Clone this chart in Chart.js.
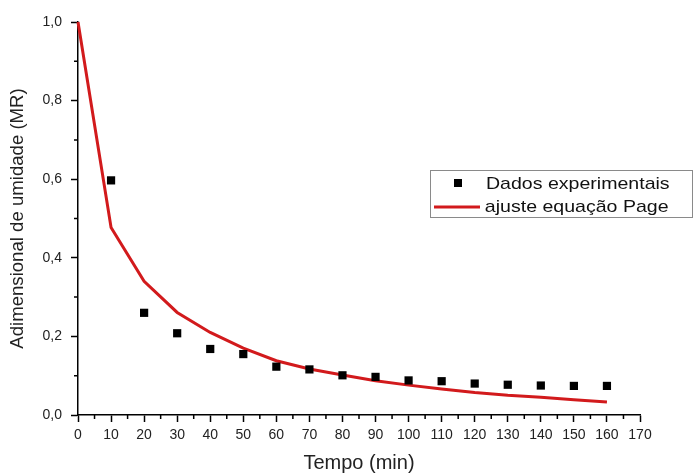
<!DOCTYPE html>
<html lang="pt">
<head>
    <meta charset="UTF-8">
    <title>Cinética de secagem - modelo de Page</title>
    <script src="https://cdn.jsdelivr.net/npm/chart.js"></script>
    <style>
        body { margin: 0; background: #fff; }
        #grafico { display: block; }
    </style>
</head>
<body>
    <canvas id="grafico" width="694" height="475"></canvas>
    <script>
        // tempo de secagem (min)
        const tempos = [10, 20, 30, 40, 50, 60, 70, 80, 90, 100, 110, 120, 130, 140, 150, 160];
        const mrExperimental = [0.597, 0.260, 0.208, 0.168, 0.155, 0.123, 0.116, 0.101, 0.097, 0.088, 0.086, 0.080, 0.077, 0.075, 0.074, 0.074];

        // curva ajustada pela equação de Page
        const temposAjuste = [0, 10, 20, 30, 40, 50, 60, 70, 80, 90, 100, 110, 120, 130, 140, 150, 160];
        const mrPage = [1.0, 0.477, 0.340, 0.261, 0.210, 0.170, 0.138, 0.117, 0.102, 0.087, 0.076, 0.066, 0.057, 0.050, 0.045, 0.039, 0.033];

        const fonte = "'Liberation Sans', Arial, sans-serif";
        const vermelho = '#d21a1c';

        function pontos(xs, ys) {
            return xs.map((x, i) => ({ x: x, y: ys[i] }));
        }

        // ticks menores (sem rótulo) desenhados mais curtos
        const ticksMenores = {
            id: 'ticksMenores',
            afterDraw(chart) {
                const ctx = chart.ctx;
                const sx = chart.scales.x;
                const sy = chart.scales.y;
                ctx.save();
                ctx.strokeStyle = '#000';
                ctx.lineWidth = 1.5;
                ctx.beginPath();
                sx.ticks.forEach(t => {
                    if (t.value % 10 !== 0) {
                        const px = sx.getPixelForValue(t.value);
                        ctx.moveTo(px, sx.top);
                        ctx.lineTo(px, sx.top + 4);
                    }
                });
                sy.ticks.forEach(t => {
                    if (Math.round(t.value * 10) % 2 !== 0) {
                        const py = sy.getPixelForValue(t.value);
                        ctx.moveTo(sy.right, py);
                        ctx.lineTo(sy.right - 4, py);
                    }
                });
                ctx.stroke();
                ctx.restore();
            }
        };

        // legenda em caixa dentro da área do gráfico
        const legendaCaixa = {
            id: 'legendaCaixa',
            afterDraw(chart) {
                const ctx = chart.ctx;
                const ds = chart.data.datasets;
                ctx.save();
                ctx.strokeStyle = '#8a8a8a';
                ctx.lineWidth = 1;
                ctx.strokeRect(430.5, 170.5, 262, 47);

                ctx.fillStyle = '#000';
                ctx.fillRect(454, 179, 8, 8);

                ctx.strokeStyle = vermelho;
                ctx.lineWidth = 3;
                ctx.beginPath();
                ctx.moveTo(434, 207);
                ctx.lineTo(480, 207);
                ctx.stroke();

                // texto levemente alargado na horizontal
                ctx.fillStyle = '#111';
                ctx.font = '17px ' + fonte;
                ctx.textBaseline = 'middle';
                ctx.translate(486, 0);
                ctx.scale(1.15, 1);
                ctx.fillText(ds[0].label, 0, 184);
                ctx.fillText(ds[1].label, -1, 207);
                ctx.restore();
            }
        };

        new Chart(document.getElementById('grafico'), {
            type: 'scatter',
            data: {
                datasets: [
                    {
                        label: 'Dados experimentais',
                        data: pontos(tempos, mrExperimental),
                        pointStyle: 'rect',
                        pointRadius: 5.8,
                        backgroundColor: '#000',
                        borderColor: '#000',
                        borderWidth: 0,
                        clip: false
                    },
                    {
                        label: 'ajuste equação Page',
                        data: pontos(temposAjuste, mrPage),
                        showLine: true,
                        tension: 0,
                        pointRadius: 0,
                        borderColor: vermelho,
                        borderWidth: 3,
                        clip: false
                    }
                ]
            },
            options: {
                responsive: false,
                animation: false,
                layout: { padding: { left: 0, right: 54, top: 22, bottom: 0 } },
                plugins: {
                    legend: { display: false },
                    tooltip: { enabled: false }
                },
                scales: {
                    x: {
                        type: 'linear',
                        min: 0,
                        max: 170,
                        afterFit(scale) { scale.height = 60; },
                        border: { color: '#000', width: 1.5 },
                        grid: {
                            drawOnChartArea: false,
                            tickLength: 7,
                            tickWidth: 1.5,
                            tickColor: c => (c.tick && c.tick.value % 10 === 0) ? '#000' : 'rgba(0,0,0,0)'
                        },
                        ticks: {
                            stepSize: 5,
                            autoSkip: false,
                            maxRotation: 0,
                            padding: 5,
                            color: '#222',
                            font: { family: fonte, size: 14 },
                            callback: v => v % 10 === 0 ? String(v) : ''
                        },
                        title: {
                            display: true,
                            text: 'Tempo (min)',
                            color: '#222',
                            font: { family: fonte, size: 20 },
                            padding: { top: 0, bottom: 0 }
                        }
                    },
                    y: {
                        min: 0,
                        max: 1,
                        afterFit(scale) { scale.width = 78; },
                        border: { color: '#000', width: 1.5 },
                        grid: {
                            drawOnChartArea: false,
                            tickLength: 7,
                            tickWidth: 1.5,
                            tickColor: c => (c.tick && Math.round(c.tick.value * 10) % 2 === 0) ? '#000' : 'rgba(0,0,0,0)'
                        },
                        ticks: {
                            stepSize: 0.1,
                            autoSkip: false,
                            padding: 9,
                            color: '#222',
                            font: { family: fonte, size: 14 },
                            callback: v => Math.round(v * 10) % 2 === 0 ? v.toFixed(1).replace('.', ',') : ''
                        },
                        title: {
                            display: true,
                            text: 'Adimensional de umidade (MR)',
                            color: '#222',
                            font: { family: fonte, size: 18.6 },
                            padding: { top: 7, bottom: 0 }
                        }
                    }
                }
            },
            plugins: [ticksMenores, legendaCaixa]
        });
    </script>
</body>
</html>
